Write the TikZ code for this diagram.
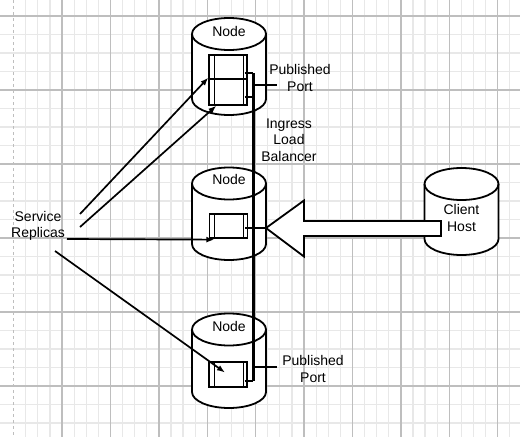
\documentclass[tikz,border=0pt]{standalone}
\usepackage{fontspec}
\setmainfont{Liberation Sans}
\usetikzlibrary{arrows.meta}
\definecolor{gridminor}{RGB}{232, 232, 232}
\definecolor{gridmajor}{RGB}{190, 190, 190}

\tikzset{
	drumline/.style={draw=black, fill=white, line width=1.8pt},
	replica/.style={draw=black, fill=white, line width=1.3pt, minimum width=38pt, minimum height=24pt, inner sep=0pt,
		path picture={
			\draw [line width=1pt] ([xshift=5pt]path picture bounding box.north west) -- ([xshift=5pt]path picture bounding box.south west);
			\draw [line width=1pt] ([xshift=-4pt]path picture bounding box.north east) -- ([xshift=-4pt]path picture bounding box.south east);
		}},
	tag/.style={font=\fontsize{14}{16.5}\selectfont, align=center, inner sep=0pt},
	feed/.style={line width=1.7pt, -{Latex[length=8pt, width=6pt]}},
	port/.style={draw=black, line width=2pt},
	lbline/.style={draw=black, line width=3pt},
}

% name, centre x, top y, bottom y, text y, text
\newcommand{\drum}[6]{
	\filldraw [drumline] (#2-37, #3) arc[start angle=180, end angle=360, x radius=37, y radius=16] -- (#2+37, #4) arc[start angle=0, end angle=180, x radius=37, y radius=16] -- cycle;
	\draw [drumline, fill=none] (#2-37, #3) arc[start angle=180, end angle=0, x radius=37, y radius=16];
	\node [tag] (#1) at (#2, #5) {#6};
}

\begin{document}
\begin{tikzpicture}[x=1pt, y=-1pt]
			\useasboundingbox (0, 0) rectangle (520, 437);
			% grid paper
			\fill [white] (0, 0) rectangle (520, 437);
			\foreach \gx in {25.7,37.8,...,520} \draw [gridminor, line width=1.2pt] (\gx, 0) -- (\gx, 437);
			\foreach \gy in {-2.5,16,...,437} \draw [gridminor, line width=1.2pt] (0, \gy) -- (520, \gy);
			\foreach \gx in {62,110.4,...,520} \draw [gridmajor, line width=1.4pt] (\gx, 0) -- (\gx, 437);
			\foreach \gy in {16,90,...,437} \draw [gridmajor, line width=1.4pt] (0, \gy) -- (520, \gy);
			\draw [gridmajor, line width=1.2pt, dashed] (13.6, 0) -- (13.6, 437);

			% nodes and client
			\drum{nodetop}{229}{34}{99}{31}{Node}
			\drum{nodemid}{229}{183.5}{244}{179}{Node}
			\drum{nodebot}{229}{329.5}{392}{326}{Node}
			\drum{client}{461.5}{184}{239}{218}{Client\\Host}

			% service replicas
			\node [replica] (toprepA) at (228, 67) {};
			\node [replica, minimum height=26pt] (toprepB) at (228, 92) {};
			\node [replica] (midrep) at (228.5, 226) {};
			\node [replica, minimum height=25pt] (botrep) at (228, 374.5) {};

			% ingress load balancer
			\coordinate (ingtop) at (253, 73);
			\coordinate (ingbot) at (253, 381);
			\coordinate (lbtip) at (266, 228);
			\draw [lbline] (ingtop) -- (ingbot);
			\draw [port] ([xshift=-3pt]toprepA.south east |- ingtop) -- (ingtop);
			\draw [port] ([xshift=-3pt]toprepB.south east |- 0, 97) -- (253, 97);
			\draw [port] ([xshift=-3pt]botrep.south east |- ingbot) -- (ingbot);
			\draw [port] ([xshift=-3pt]midrep.east |- lbtip) -- (lbtip);

			% published ports
			\node [tag] (pubtop) at (300, 78) {Published\\Port};
			\node [tag] (pubbot) at (313, 369) {Published\\Port};
			\coordinate (pubtopend) at (277, 85);
			\coordinate (pubbotend) at (277, 367);
			\draw [port] (253, 85) -- (pubtopend);
			\draw [port] (253, 367) -- (pubbotend);
			\node [tag] (lbtext) at (289, 140) {Ingress\\Load\\Balancer};

			% request from client host
			\filldraw [draw=black, fill=white, line width=1.8pt] (lbtip) -- ++(38, -27.5) -- ++(0, 20.5) -- ++(137, 0) -- ++(0, 15) -- ++(-137, 0) -- ++(0, 20.5) -- cycle;

			% arrows from the label
			\node [tag] (replicas) at (38, 226) {Service\\Replicas};
			\coordinate (feedA) at (80, 214);
			\coordinate (feedB) at (80, 227);
			\coordinate (feedC) at (67, 239);
			\coordinate (feedD) at (55, 251);
			\draw [feed] (feedA) -- ([yshift=2pt]toprepA.south west);
			\draw [feed] (feedB) -- ([xshift=8pt]toprepB.south west);
			\draw [feed] (feedC) -- ([xshift=5.5pt, yshift=-1pt]midrep.south west);
			\draw [feed] (feedD) -- ([xshift=-3pt, yshift=2pt]botrep.center);
		\end{tikzpicture}
\end{document}
